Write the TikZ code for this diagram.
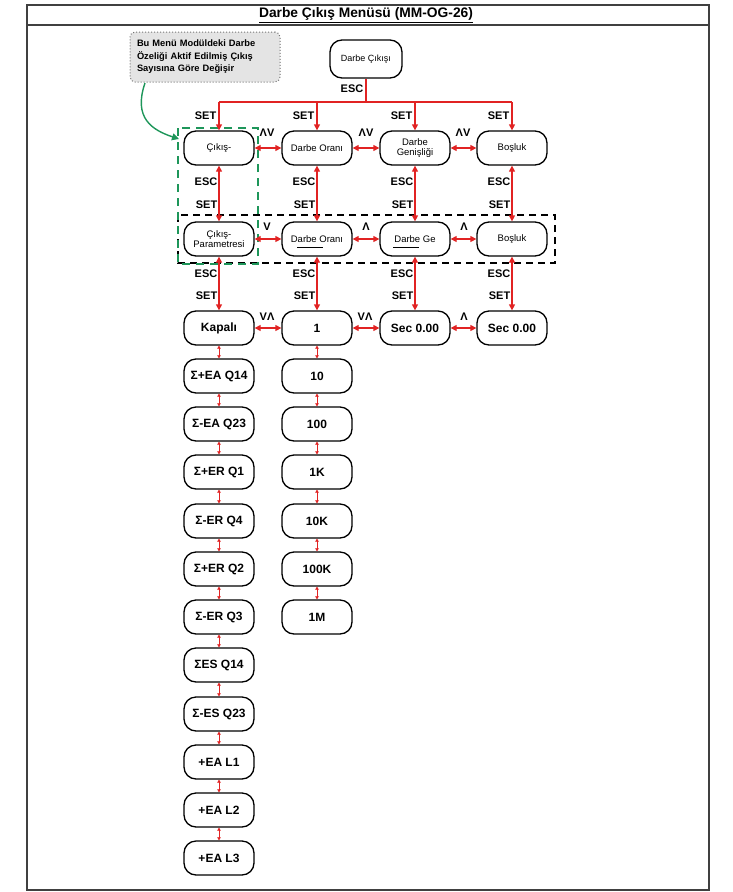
\documentclass[tikz,border=0pt]{standalone}
\usepackage{fontspec}
\setmainfont{Liberation Sans}
\usetikzlibrary{arrows.meta}
\definecolor{myred}{RGB}{225,35,35}
\definecolor{mygreen}{RGB}{30,150,90}
\definecolor{notefill}{RGB}{228,228,228}
\begin{document}
\begin{tikzpicture}[x=1pt,y=-1pt,
  box/.style={draw=black, line width=1.3pt, rounded corners=12pt, minimum width=70pt, minimum height=34pt, align=center, inner sep=1pt, font=\fontsize{9.5}{10.5}\selectfont},
  big/.style={box, font=\bfseries\fontsize{12}{13}\selectfont},
  lbl/.style={font=\bfseries\fontsize{11}{12}\selectfont, inner sep=0.5pt},
  redline/.style={draw=myred, line width=1.3pt},
  rar/.style={redline, {Triangle[width=6pt,length=6pt]}-{Triangle[width=6pt,length=6pt]}},
  rdn/.style={redline, -{Triangle[width=6pt,length=6pt]}},
  sar/.style={draw=myred, line width=1pt, {Triangle[width=3.5pt,length=3pt]}-{Triangle[width=3.5pt,length=3pt]}},
  note/.style={draw=black!55, dotted, line width=1pt, fill=notefill, rounded corners=5pt, minimum width=150pt, minimum height=50pt, text width=136pt, align=left, font=\bfseries\fontsize{9.3}{12.5}\selectfont, inner sep=3pt},
  uline/.style={draw=black, line width=0.8pt}
]
\useasboundingbox (0,0) rectangle (732,892);
% frame
\draw[line width=1.5pt, black!75] (27,5) rectangle (709,890);
\draw[line width=1.2pt, black!75] (27,25) -- (709,25);
\node (title) at (366,15) {\bfseries\fontsize{13.8}{14}\selectfont\underline{Darbe Çıkış Menüsü (MM-OG-26)}};

% note
\node[note] (note) at (205,57) {Bu Menü Modüldeki Darbe\\Özeliği Aktif Edilmiş Çıkış\\Sayısına Göre Değişir};

% top node
\node[box, minimum width=72pt, minimum height=38pt, font=\fontsize{9}{10}\selectfont] (top) at (366,59) {Darbe Çıkışı};

% row 1
\node[box] (a1) at (219,148) {Çıkış-};
\node[box] (a2) at (317,148) {Darbe Oranı};
\node[box] (a3) at (415,148) {Darbe\\Genişliği};
\node[box] (a4) at (512,148) {Boşluk};
% row 2
\node[box] (b1) at (219,239) {Çıkış-\\Parametresi};
\node[box] (b2) at (317,239) {Darbe Oranı};
\node[box] (b3) at (415,239) {Darbe Ge};
\node[box] (b4) at (512,239) {Boşluk};
\draw[uline] ([xshift=-20pt,yshift=-8pt]b2.center) -- ++(26,0);
\draw[uline] ([xshift=-22pt,yshift=-8pt]b3.center) -- ++(26,0);
% row 3
\node[big] (c1) at (219,328) {Kapalı};
\node[big] (c2) at (317,328) {1};
\node[big] (c3) at (415,328) {Sec 0.00};
\node[big] (c4) at (512,328) {Sec 0.00};

% column 1 list
\node[big] (l1) at (219,376) {Σ+EA Q14};
\node[big] (l2) at (219,424) {Σ-EA Q23};
\node[big] (l3) at (219,472) {Σ+ER Q1};
\node[big] (l4) at (219,521) {Σ-ER Q4};
\node[big] (l5) at (219,569) {Σ+ER Q2};
\node[big] (l6) at (219,617) {Σ-ER Q3};
\node[big] (l7) at (219,665) {ΣES Q14};
\node[big] (l8) at (219,714) {Σ-ES Q23};
\node[big] (l9) at (219,762) {+EA L1};
\node[big] (l10) at (219,810) {+EA L2};
\node[big] (l11) at (219,858) {+EA L3};
% column 2 list
\node[big] (m1) at (317,376) {10};
\node[big] (m2) at (317,424) {100};
\node[big] (m3) at (317,472) {1K};
\node[big] (m4) at (317,521) {10K};
\node[big] (m5) at (317,569) {100K};
\node[big] (m6) at (317,617) {1M};

% list connectors
\draw[sar] (c1) -- (l1);
\foreach \i [evaluate=\i as \j using int(\i+1)] in {1,...,10} {\draw[sar] (l\i) -- (l\j);}
\draw[sar] (c2) -- (m1);
\foreach \i [evaluate=\i as \j using int(\i+1)] in {1,...,5} {\draw[sar] (m\i) -- (m\j);}

% dashed groups
\draw[black, line width=1.3pt, dash pattern=on 7pt off 5pt] (178,215) rectangle (555,263);
\draw[mygreen, line width=1.5pt, dash pattern=on 8pt off 6pt] (178,128) rectangle (258,264);

% green pointer
\coordinate (gs) at (145,83);
\coordinate (ge) at (179,139);
\draw[mygreen, line width=1.4pt, -{Triangle[width=7pt,length=7pt]}] (gs) .. controls (133,118) and (152,130) .. (ge);

% top distribution
\coordinate (j1) at (219,102);
\coordinate (j2) at (317,102);
\coordinate (j3) at (415,102);
\coordinate (j4) at (512,102);
\draw[redline] (top.south) -- (top.south |- j1);
\draw[redline] (j1) -- (j4);
\draw[rdn] (j1) -- (a1);
\draw[rdn] (j2) -- (a2);
\draw[rdn] (j3) -- (a3);
\draw[rdn] (j4) -- (a4);
\node[lbl, anchor=east] (escT) at (364,89) {ESC};
\foreach \x/\n in {219/1,317/2,415/3,512/4} {
  \node[lbl, anchor=east] (setT\n) at (\x-2,116) {SET};
  \node[lbl, anchor=east] (escA\n) at (\x-1,182) {ESC};
  \node[lbl, anchor=east] (setA\n) at (\x-1,205) {SET};
  \node[lbl, anchor=east] (escB\n) at (\x-1,274) {ESC};
  \node[lbl, anchor=east] (setB\n) at (\x-1,296) {SET};
}
% vertical row connectors
\foreach \n in {1,2,3,4} {
  \draw[rar] (a\n) -- (b\n);
  \draw[rar] (b\n) -- (c\n);
}
% horizontal connectors
\draw[rar] (a1) -- (a2);
\draw[rar] (a2) -- (a3);
\draw[rar] (a3) -- (a4);
\draw[rar] (b1) -- (b2);
\draw[rar] (b2) -- (b3);
\draw[rar] (b3) -- (b4);
\draw[rar] (c1) -- (c2);
\draw[rar] (c2) -- (c3);
\draw[rar] (c3) -- (c4);
\node[lbl] (h1) at (267,133) {ΛV};
\node[lbl] (h2) at (366,133) {ΛV};
\node[lbl] (h3) at (463,133) {ΛV};
\node[lbl] (h4) at (267,227) {V};
\node[lbl] (h5) at (366,227) {Λ};
\node[lbl] (h6) at (464,227) {Λ};
\node[lbl] (h7) at (267,317) {VΛ};
\node[lbl] (h8) at (365,317) {VΛ};
\node[lbl] (h9) at (464,317) {Λ};
\end{tikzpicture}
\end{document}
